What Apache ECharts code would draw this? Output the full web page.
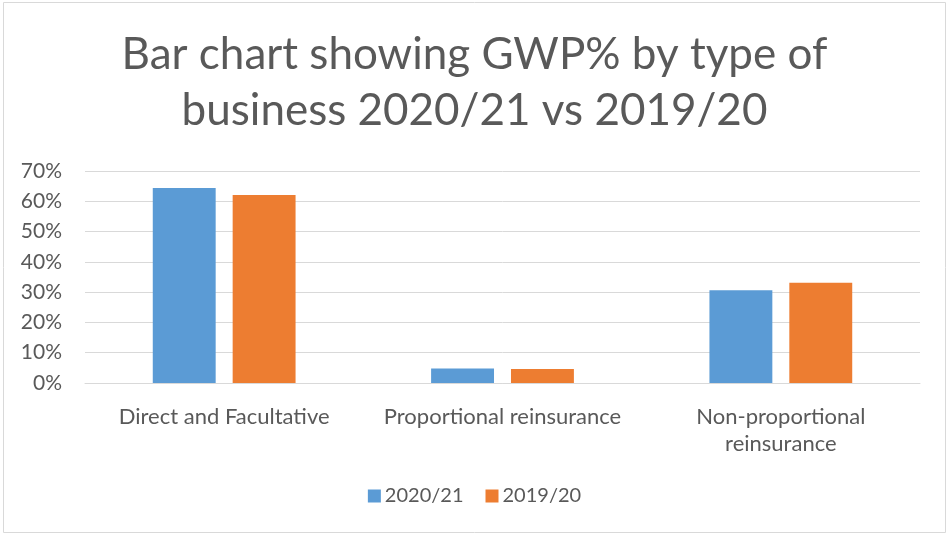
<!DOCTYPE html>
<html>
<head>
<meta charset="utf-8">
<script src="https://cdn.jsdelivr.net/npm/echarts@6/dist/echarts.min.js"></script>
<style>
  html, body { margin: 0; padding: 0; background: #fff; }
  #main { width: 949px; height: 536px; }
</style>
</head>
<body>
<div id="main"></div>
<script>
var categories = ['Direct and Facultative', 'Proportional reinsurance', 'Non-proportional\nreinsurance'];
var gwp2021 = [0.644, 0.048, 0.306];
var gwp1920 = [0.621, 0.046, 0.331];
var seriesNames = ['2020/21', '2019/20'];

var font = 'Lato, "Open Sans", sans-serif';
var grey = '#595959';

var chart = echarts.init(document.getElementById('main'));
chart.setOption({
    animation: false,
    graphic: [{
        type: 'rect',
        shape: { x: 3.5, y: 2.5, width: 942, height: 530 },
        style: { fill: 'none', stroke: '#d9d9d9', lineWidth: 1 }
    }],
    title: {
        text: 'Bar chart showing GWP% by type of\nbusiness 2020/21 vs 2019/20',
        left: 'center',
        top: 22,
        textStyle: {
            fontFamily: font,
            fontWeight: 'normal',
            fontSize: 44,
            lineHeight: 56,
            color: grey
        }
    },
    legend: {
        data: seriesNames,
        bottom: 25,
        left: 'center',
        icon: 'rect',
        itemWidth: 13,
        itemHeight: 13,
        itemGap: 22,
        itemStyle: { borderWidth: 0 },
        textStyle: { fontFamily: font, fontSize: 20, color: grey, padding: [0, 0, 0, -1] }
    },
    grid: { left: 85, right: 29, top: 171, bottom: 153, containLabel: false },
    xAxis: {
        type: 'category',
        data: categories,
        axisTick: { show: false },
        axisLine: { lineStyle: { color: '#d9d9d9', width: 1 } },
        axisLabel: { fontFamily: font, fontSize: 22, color: grey, margin: 20, lineHeight: 27, interval: 0 }
    },
    yAxis: {
        type: 'value',
        min: 0,
        max: 0.7,
        interval: 0.1,
        axisLine: { show: false },
        axisTick: { show: false },
        splitLine: { lineStyle: { color: '#d9d9d9', width: 1 } },
        axisLabel: {
            fontFamily: font, fontSize: 21, color: grey, margin: 23,
            formatter: function (v) { return Math.round(v * 100) + '%'; }
        }
    },
    series: [
        { name: seriesNames[0], type: 'bar', data: gwp2021, barWidth: '22.6%', barGap: '27%', itemStyle: { color: '#5b9bd5' } },
        { name: seriesNames[1], type: 'bar', data: gwp1920, barWidth: '22.6%', barGap: '27%', itemStyle: { color: '#ed7d31' } }
    ]
});
</script>
</body>
</html>
